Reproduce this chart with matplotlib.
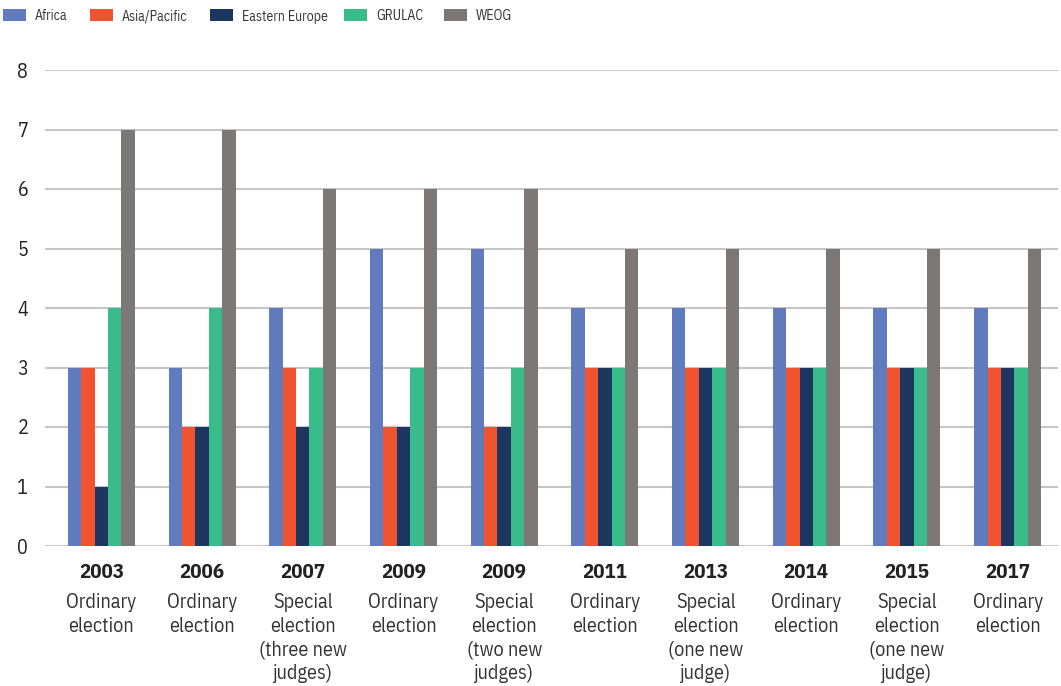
import matplotlib
matplotlib.use("Agg")
import matplotlib.pyplot as plt
import matplotlib.transforms as mtransforms
from matplotlib.font_manager import fontManager
from matplotlib.patches import Rectangle
import numpy as np

years = ["2003", "2006", "2007", "2009", "2009", "2011", "2013", "2014", "2015", "2017"]
descriptions = [
    "Ordinary\nelection",
    "Ordinary\nelection",
    "Special\nelection\n(three new\njudges)",
    "Ordinary\nelection",
    "Special\nelection\n(two new\njudges)",
    "Ordinary\nelection",
    "Special\nelection\n(one new\njudge)",
    "Ordinary\nelection",
    "Special\nelection\n(one new\njudge)",
    "Ordinary\nelection",
]
series_names = ["Africa", "Asia/Pacific", "Eastern Europe", "GRULAC", "WEOG"]
africa = [3, 3, 4, 5, 5, 4, 4, 4, 4, 4]
asia_pacific = [3, 2, 3, 2, 2, 3, 3, 3, 3, 3]
eastern_europe = [1, 2, 2, 2, 2, 3, 3, 3, 3, 3]
grulac = [4, 4, 3, 3, 3, 3, 3, 3, 3, 3]
weog = [7, 7, 6, 6, 6, 5, 5, 5, 5, 5]
series_values = [africa, asia_pacific, eastern_europe, grulac, weog]
colors = ["#617bbf", "#f05330", "#1d3660", "#3abb8a", "#7d7877"]

names = {f.name for f in fontManager.ttflist}
fam = [c for c in ["IBM Plex Sans Condensed", "DejaVu Sans"] if c in names]
plt.rcParams["font.family"] = fam

W, H = 1061, 686
fig = plt.figure(figsize=(W / 100, H / 100), dpi=100)
ax = fig.add_axes([45 / W, 1 - 546 / H, (1058 - 45) / W, (546 - 70) / H])

x = np.arange(len(years))
bw = 0.133
for i, (vals, c) in enumerate(zip(series_values, colors)):
    ax.bar(x + (i - 2) * bw, vals, width=bw, color=c, zorder=2, linewidth=0)

ax.set_ylim(0, 8)
ax.set_xlim(-0.56, len(years) - 0.5)
ax.set_yticks(range(0, 9))
ax.yaxis.grid(True, color="#c6c6c6", linewidth=1.5, zorder=0)
ax.set_axisbelow(True)
for s in ax.spines.values():
    s.set_visible(False)
ax.tick_params(axis="y", length=0, pad=16, labelsize=14.5, labelcolor="#222222")
ax.tick_params(axis="x", length=0)
ax.set_xticks(x)
ax.set_xticklabels([])
for lab in ax.get_yticklabels():
    lab.set_horizontalalignment("center")

trans = mtransforms.blended_transform_factory(ax.transData, fig.transFigure)
for xi, (yr, d) in enumerate(zip(years, descriptions)):
    ax.text(xi, 1 - 573 / H, yr, transform=trans, ha="center", va="center",
            fontsize=15, fontweight="bold", color="#222222")
    ax.text(xi, 1 - 593 / H, d, transform=trans, ha="center", va="top",
            fontsize=14.5, color="#333333", linespacing=1.31)

# legend, placed by hand in figure pixels
patch_x = [3, 90, 210, 344, 444]
for px, name, c in zip(patch_x, series_names, colors):
    fig.patches.append(Rectangle((px / W, 1 - 21 / H), 23 / W, 12 / H,
                                 transform=fig.transFigure, facecolor=c,
                                 edgecolor="none"))
    fig.text((px + 32) / W, 1 - 16.5 / H, name, ha="left", va="center",
             fontsize=10, color="#333333")

fig.savefig("out.png", dpi=100)
